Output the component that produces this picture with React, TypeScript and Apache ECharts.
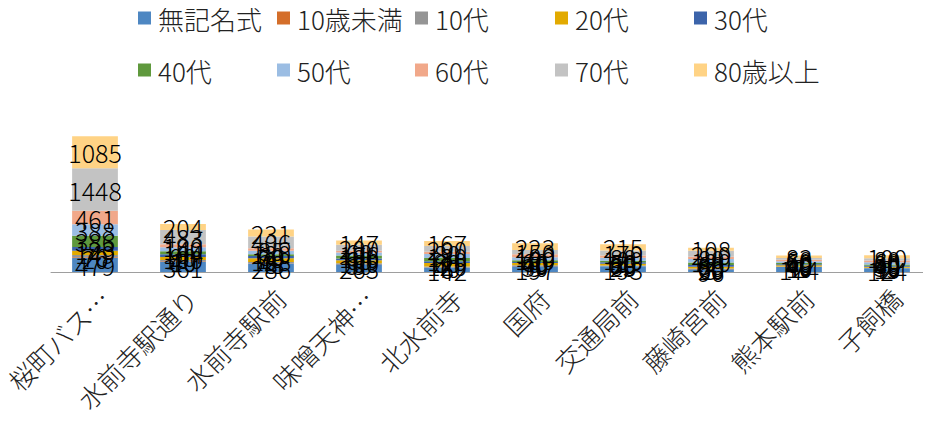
import React, { useEffect, useRef } from "react";
import * as echarts from "echarts";

const categories = ["桜町バス…", "水前寺駅通り", "水前寺駅前", "味噌天神…", "北水前寺", "国府", "交通局前", "藤崎宮前", "熊本駅前", "子飼橋"];

const seriesNames = ["無記名式", "10歳未満", "10代", "20代", "30代", "40代", "50代", "60代", "70代", "80歳以上"];

const anonymous = [479, 361, 286, 263, 142, 197, 193, 96, 174, 124];
const under10 = [20, 10, 8, 5, 6, 5, 4, 3, 2, 2];
const teens = [76, 40, 48, 30, 40, 30, 25, 20, 10, 15];
const twenties = [149, 100, 128, 100, 120, 70, 60, 60, 40, 40];
const thirties = [123, 90, 70, 60, 60, 40, 50, 60, 40, 30];
const forties = [386, 104, 60, 100, 110, 60, 50, 80, 40, 40];
const fifties = [388, 140, 120, 106, 130, 100, 100, 120, 60, 80];
const sixties = [461, 100, 85, 60, 80, 100, 80, 80, 50, 60];
const seventies = [1448, 483, 406, 200, 200, 150, 170, 200, 60, 80];
const over80 = [1085, 204, 231, 147, 167, 223, 215, 108, 83, 100];

const seriesValues = [anonymous, under10, teens, twenties, thirties, forties, fifties, sixties, seventies, over80];

const colors = ["#4E87C2", "#D46E2A", "#959595", "#E2AA00", "#3C64AA", "#5F993D", "#9BBDE3", "#F1A88A", "#C3C3C3", "#FFD385"];

const legendLefts = [138, 277, 415, 555, 694];
const legendTops = [5, 57];

const FONT = "'Noto Sans CJK JP', 'Noto Sans', sans-serif";

export default function App() {
  const ref = useRef<HTMLDivElement>(null);
  useEffect(() => {
    if (!ref.current) return;
    const chart = echarts.init(ref.current, undefined, { renderer: "svg" });
    const legends = seriesNames.map((name, i) => ({
      data: [name],
      left: legendLefts[i % 5],
      top: legendTops[Math.floor(i / 5)],
      itemWidth: 13,
      itemHeight: 13,
      icon: "rect",
      padding: 0,
      textStyle: { fontSize: 26, fontWeight: 300, color: "#222", fontFamily: FONT, padding: [0, 0, 0, 2] },
    }));
    chart.setOption({
      animation: false,
      color: colors,
      textStyle: { fontFamily: FONT },
      legend: legends,
      grid: { left: 51, right: 0, top: 125, bottom: 153, containLabel: false },
      xAxis: {
        type: "category",
        data: categories,
        axisLine: { show: true, lineStyle: { color: "#9e9e9e", width: 1 } },
        axisTick: { show: false },
        axisLabel: {
          rotate: 45,
          interval: 0,
          fontSize: 26,
          fontWeight: 300,
          color: "#222",
          fontFamily: FONT,
          margin: 12,
          verticalAlign: "top",
        },
      },
      yAxis: {
        type: "value",
        min: 0,
        max: 5000,
        show: false,
        splitLine: { show: false },
      },
      series: seriesNames.map((name, i) => ({
        name,
        type: "bar",
        stack: "total",
        barWidth: "52%",
        data: seriesValues[i],
        label: {
          show: true,
          position: "inside",
          color: "#000",
          fontSize: 25,
          fontWeight: 300,
          fontFamily: FONT,
        },
      })),
    });
    return () => chart.dispose();
  }, []);
  return <div ref={ref} style={{ width: 931, height: 425, margin: -8 }} />;
}
